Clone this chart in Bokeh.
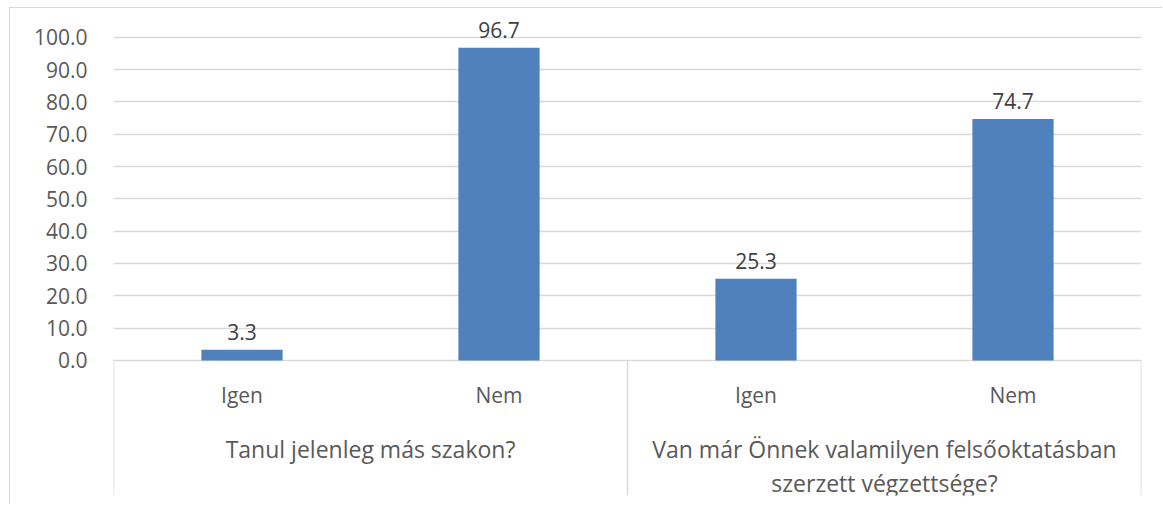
from bokeh.plotting import figure
from bokeh.models import ColumnDataSource, FactorRange, Range1d, FixedTicker, NumeralTickFormatter
from bokeh.core.properties import value
from bokeh.embed import file_html
from bokeh.resources import INLINE

# ---- data ----
groups = ["Tanul jelenleg más szakon?",
          "Van már Önnek valamilyen felsőoktatásban\nszerzett végzettsége?"]
answers = ["Igen", "Nem"]
values_g1 = [3.3, 96.7]
values_g2 = [25.3, 74.7]
y_ticks = [0, 10, 20, 30, 40, 50, 60, 70, 80, 90, 100]

FONT = "Open Sans"
BLUE = "#4F81BD"
GRID = "#D9D9D9"
AXIS_TXT = "#595959"
VAL_TXT = "#404040"

factors = [(g, a) for g in groups for a in answers]
vals = values_g1 + values_g2
labels = ["%.1f" % v for v in vals]

src = ColumnDataSource(dict(x=factors, top=vals, label=labels,
                            sub=[a for g in groups for a in answers]))

Y0, Y1 = -41.76, 105.78
xr = FactorRange(*factors, factor_padding=0, group_padding=0, range_padding=0)
p = figure(width=1153, height=497, x_range=xr, y_range=Range1d(Y0, Y1),
           output_backend="svg", toolbar_location=None,
           min_border_left=103, min_border_right=22, min_border_top=10, min_border_bottom=10)
p.outline_line_color = None
p.background_fill_color = "white"
p.border_fill_color = "white"
p.styles = {"margin-left": "9px", "margin-top": "7px",
            "border-left": "1px solid #D9D9D9", "border-top": "1px solid #D9D9D9"}

# axes
p.xaxis.visible = False
p.xgrid.visible = False
p.yaxis.ticker = FixedTicker(ticks=y_ticks)
p.yaxis.formatter = NumeralTickFormatter(format="0.0")
p.yaxis.axis_line_color = None
p.yaxis.major_tick_line_color = None
p.yaxis.minor_tick_line_color = None
p.yaxis.major_tick_out = 0
p.yaxis.major_label_standoff = 26
p.yaxis.major_label_text_font = FONT
p.yaxis.major_label_text_font_size = "21px"
p.yaxis.major_label_text_color = AXIS_TXT
p.ygrid.ticker = FixedTicker(ticks=y_ticks)
p.ygrid.grid_line_color = GRID
p.ygrid.grid_line_width = 1.3
p.ygrid.bounds = (0, 100)

# bars
p.vbar(x="x", top="top", bottom=0, width=0.316, source=src,
       fill_color=BLUE, line_color=None)

# value labels
p.text(x="x", y="top", text="label", source=src, text_align="center",
       text_baseline="bottom", y_offset=-10, text_font=value(FONT),
       text_font_size="21px", text_color=VAL_TXT)

# category labels (inner level)
p.text(x="x", y=-10.8, text="sub", source=src, text_align="center",
       text_baseline="middle", text_font=value(FONT), text_font_size="21px",
       text_color=AXIS_TXT)

# group labels (outer level)
gsrc = ColumnDataSource(dict(x=groups, t=groups))
p.text(x="x", y=-22.4, text="t", source=gsrc, text_align="center",
       text_baseline="top", text_font=value(FONT), text_font_size="23px",
       text_color=AXIS_TXT, text_line_height=1.05)

# group separators of the category axis
n = len(factors)
sep_x = [0, len(answers), n]
p.segment(x0=sep_x, y0=[0] * 3, x1=sep_x, y1=[Y0] * 3,
          line_color=GRID, line_width=1.5)

open("out.html", "w").write(file_html(p, INLINE))
